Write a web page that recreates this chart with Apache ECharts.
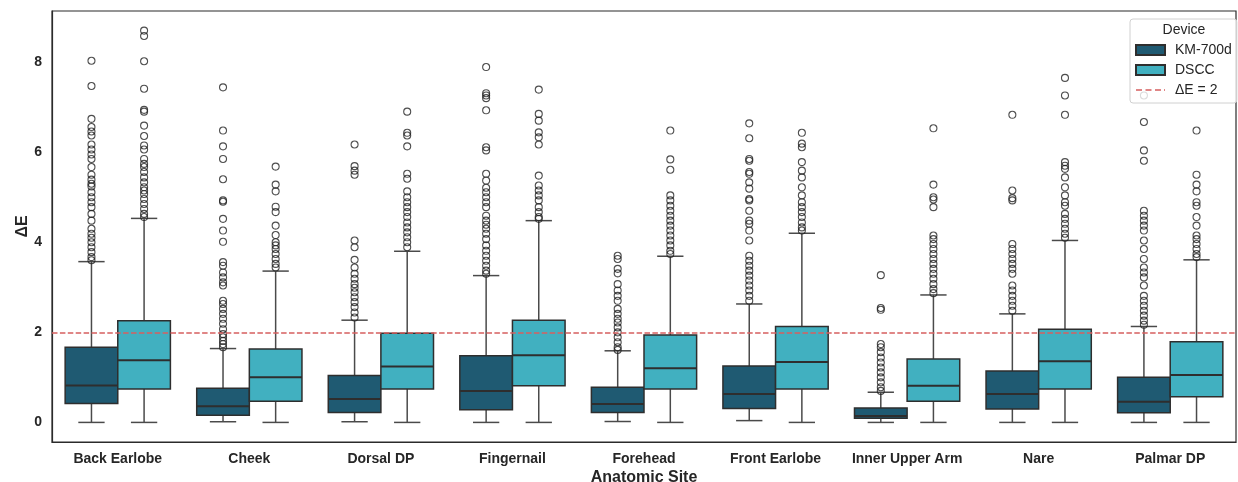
<!DOCTYPE html>
<html>
<head>
<meta charset="utf-8">
<script src="https://cdn.jsdelivr.net/npm/echarts@6/dist/echarts.min.js"></script>
<style>
html,body{margin:0;padding:0;background:#fff;}
#chart{width:1238px;height:482px;}
</style>
</head>
<body>
<div id="chart"></div>
<script>
// ---------- data ----------
const categories = ['Back Earlobe','Cheek','Dorsal DP','Fingernail','Forehead','Front Earlobe','Inner Upper Arm','Nare','Palmar DP'];
const seriesNames = ['KM-700d','DSCC'];
// [lower whisker, Q1, median, Q3, upper whisker]
const kmBox = [
  [0.00,0.42,0.82,1.67,3.57],
  [0.015,0.16,0.36,0.76,1.64],
  [0.015,0.22,0.52,1.04,2.27],
  [0.00,0.28,0.70,1.48,3.26],
  [0.02,0.22,0.41,0.78,1.59],
  [0.04,0.31,0.63,1.25,2.63],
  [0.00,0.09,0.14,0.32,0.67],
  [0.00,0.30,0.63,1.14,2.41],
  [0.00,0.215,0.46,1.00,2.13]
];
const dsccBox = [
  [0.00,0.74,1.38,2.26,4.53],
  [0.00,0.47,1.00,1.63,3.36],
  [0.00,0.74,1.24,1.98,3.80],
  [0.00,0.815,1.49,2.27,4.48],
  [0.00,0.74,1.20,1.94,3.69],
  [0.00,0.74,1.34,2.13,4.20],
  [0.00,0.47,0.815,1.41,2.83],
  [0.00,0.74,1.36,2.07,4.04],
  [0.00,0.57,1.05,1.79,3.61]
];
const kmOutliers = [
  [8.03,7.47,6.74,6.56,6.46,6.37,6.17,6.06,5.95,5.85,5.67,5.5,5.39,5.3,5.24,5.11,5.0,4.89,4.78,4.63,4.48,4.3,4.19,4.1,4.0,3.89,3.78,3.67,3.6],
  [7.44,6.48,6.13,5.85,5.4,4.93,4.9,4.52,4.26,4.01,3.56,3.48,3.33,3.22,3.11,3.04,2.7,2.63,2.52,2.41,2.3,2.19,2.07,1.96,1.89,1.81,1.74,1.67],
  [6.17,5.69,5.59,5.5,4.04,3.89,3.61,3.44,3.3,3.19,3.07,2.99,2.89,2.78,2.67,2.56,2.44,2.33],
  [7.89,7.31,7.26,7.2,6.93,6.11,6.04,5.52,5.37,5.21,5.11,5.0,4.89,4.78,4.59,4.48,4.39,4.3,4.19,4.07,3.93,3.81,3.7,3.59,3.48,3.37,3.3],
  [3.7,3.63,3.41,3.31,3.07,2.93,2.81,2.7,2.52,2.41,2.3,2.22,2.11,2.0,1.89,1.78,1.67,1.61],
  [6.64,6.31,5.85,5.81,5.56,5.52,5.33,5.19,4.96,4.93,4.7,4.48,4.41,4.26,4.04,3.7,3.59,3.48,3.37,3.26,3.15,3.04,2.93,2.81,2.7],
  [3.27,2.54,2.5,1.74,1.67,1.56,1.44,1.33,1.22,1.11,1.0,0.89,0.78,0.7],
  [6.83,5.15,4.98,4.93,3.96,3.85,3.74,3.63,3.52,3.41,3.3,3.04,2.93,2.81,2.7,2.59,2.48],
  [7.26,6.67,6.04,5.81,4.7,4.59,4.48,4.37,4.26,4.04,3.85,3.63,3.44,3.33,3.22,3.04,2.81,2.7,2.59,2.48,2.37,2.26,2.17]
];
const dsccOutliers = [
  [8.70,8.58,8.02,7.41,6.94,6.9,6.59,6.36,6.15,6.06,5.85,5.74,5.67,5.56,5.44,5.33,5.22,5.15,5.07,4.96,4.85,4.74,4.63,4.56],
  [5.68,5.28,5.13,4.79,4.67,4.37,4.16,4.0,3.93,3.85,3.74,3.63,3.52,3.44],
  [6.9,6.43,6.37,6.13,5.52,5.41,5.13,5.0,4.89,4.78,4.67,4.56,4.44,4.33,4.22,4.11,4.0,3.89],
  [7.39,6.85,6.7,6.44,6.33,6.17,5.48,5.26,5.15,5.04,4.93,4.78,4.67,4.56,4.52],
  [6.48,5.84,5.61,5.04,4.93,4.81,4.7,4.59,4.48,4.37,4.26,4.15,4.04,3.93,3.81,3.74],
  [6.43,6.19,6.11,5.78,5.59,5.44,5.22,5.04,4.89,4.78,4.67,4.56,4.44,4.33,4.26],
  [6.53,5.28,5.0,4.95,4.78,4.15,4.07,3.96,3.85,3.74,3.63,3.52,3.41,3.3,3.19,3.07,2.96,2.87],
  [7.65,7.26,6.83,5.78,5.7,5.63,5.44,5.22,5.04,4.89,4.81,4.63,4.52,4.41,4.3,4.19,4.1],
  [6.48,5.5,5.28,5.13,4.89,4.81,4.56,4.37,4.15,4.07,3.96,3.85,3.74,3.67]
];
const threshold = 2;
const thresholdName = 'ΔE = 2';
const yTicks = [0,2,4,6,8];

// ---------- styles ----------
const colors = ['#1f5a72', '#41b0c0'];
const lineRed = '#d65f5f';
const FONT = '"Liberation Sans", Arial, Helvetica, sans-serif';
const TXT = '#262626';
const offsets = [-0.2, 0.2];   // dodge, in category units
const halfBox = 0.2;            // half box width, in category units

function boxRenderer(si) {
  return function (params, api) {
    const i = api.value(0);
    const unit = api.size([1, 0])[0];
    const cx = api.coord([i + offsets[si], 0])[0];
    const x0 = cx - halfBox * unit, x1 = cx + halfBox * unit;
    const cap = 0.1 * unit;
    const py = k => api.coord([i, api.value(k)])[1];
    const yLo = py(1), yQ1 = py(2), yMed = py(3), yQ3 = py(4), yHi = py(5);
    const wStyle = {stroke: '#4a4a4a', lineWidth: 1.5};
    return {
      type: 'group',
      children: [
        {type: 'line', shape: {x1: cx, y1: yQ3, x2: cx, y2: yHi}, style: wStyle},
        {type: 'line', shape: {x1: cx, y1: yQ1, x2: cx, y2: yLo}, style: wStyle},
        {type: 'line', shape: {x1: cx - cap, y1: yHi, x2: cx + cap, y2: yHi}, style: wStyle},
        {type: 'line', shape: {x1: cx - cap, y1: yLo, x2: cx + cap, y2: yLo}, style: wStyle},
        {type: 'rect', shape: {x: x0, y: yQ3, width: x1 - x0, height: yQ1 - yQ3},
          style: {fill: colors[si], stroke: '#2e2e2e', lineWidth: 1.5}},
        {type: 'line', shape: {x1: x0, y1: yMed, x2: x1, y2: yMed}, style: {stroke: '#2e2e2e', lineWidth: 2}}
      ]
    };
  };
}

const boxData = [kmBox, dsccBox].map(arr => arr.map((b, i) => [i].concat(b)));
const outData = [kmOutliers, dsccOutliers].map((arr, si) => {
  const out = [];
  arr.forEach((vals, i) => vals.forEach(v => out.push([i + offsets[si], v])));
  return out;
});

const series = [];
[0, 1].forEach(si => {
  series.push({
    name: seriesNames[si],
    type: 'custom',
    xAxisIndex: 1, yAxisIndex: 0,
    renderItem: boxRenderer(si),
    encode: {x: 0, y: [1, 2, 3, 4, 5]},
    itemStyle: {color: colors[si], borderColor: '#2e2e2e', borderWidth: 1},
    data: boxData[si],
    z: 2
  });
});
[0, 1].forEach(si => {
  series.push({
    name: seriesNames[si] + ' outliers',
    type: 'scatter',
    xAxisIndex: 1, yAxisIndex: 0,
    symbol: 'circle',
    symbolSize: 7,
    itemStyle: {color: 'rgba(255,255,255,0)', borderColor: '#222', borderWidth: 1.1},
    data: outData[si],
    z: 3,
    silent: true
  });
});
series.push({
  name: thresholdName,
  type: 'line',
  xAxisIndex: 1, yAxisIndex: 0,
  symbol: 'none',
  data: [],
  itemStyle: {color: lineRed},
  lineStyle: {color: lineRed, type: [5.5, 2.4], width: 1.5},
  markLine: {
    silent: true, symbol: 'none',
    label: {show: false},
    lineStyle: {color: lineRed, type: [5.5, 2.4], width: 1.5},
    data: [{yAxis: threshold}]
  },
  z: 4
});

// dashed legend glyph (29x10 box; moves pin the bounding box)
const dashIcon = 'path://M0,0M29,10M0,4.3h6v1.5h-6zM9.5,4.3h6v1.5h-6zM19,4.3h6v1.5h-6zM28,4.3h1v1.5h-1z';

const chart = echarts.init(document.getElementById('chart'), null, {renderer: 'canvas'});
chart.setOption({
  animation: false,
  backgroundColor: '#fff',
  textStyle: {fontFamily: FONT},
  grid: {left: 52, right: 2, top: 11, bottom: 40, show: true, borderColor: '#2b2b2b', borderWidth: 1.2,
         containLabel: false, outerBoundsMode: 'none'},
  xAxis: [
    {
      type: 'category',
      data: categories,
      boundaryGap: true,
      name: 'Anatomic Site',
      nameLocation: 'middle',
      nameGap: 28,
      nameMoveOverlap: false,
      nameTextStyle: {fontFamily: FONT, fontWeight: 'bold', fontSize: 16, color: TXT},
      axisLine: {onZero: false, lineStyle: {color: '#2b2b2b', width: 1.2}},
      axisTick: {show: false},
      axisLabel: {fontFamily: FONT, fontWeight: 'bold', fontSize: 14, color: TXT, margin: 10, interval: 0},
      splitLine: {show: false}
    },
    {
      type: 'value', min: -0.5, max: 8.5, show: false,
      axisLine: {show: false, onZero: false},
      splitLine: {show: false}
    }
  ],
  yAxis: {
    type: 'value',
    min: -0.435, max: 9.135,
    name: 'ΔE',
    nameLocation: 'middle',
    nameGap: 21,
    nameMoveOverlap: false,
    nameRotate: 90,
    nameTextStyle: {fontFamily: FONT, fontWeight: 'bold', fontSize: 16, color: TXT},
    axisLine: {show: true, onZero: false, lineStyle: {color: '#2b2b2b', width: 1.2}},
    axisTick: {show: false},
    splitLine: {show: false},
    axisLabel: {
      fontFamily: FONT, fontWeight: 'bold', fontSize: 14, color: TXT, margin: 10,
      showMinLabel: false, showMaxLabel: false,
      formatter: v => (yTicks.some(t => Math.abs(t - v) < 1e-6) ? String(Math.round(v)) : '')
    }
  },
  legend: {
    data: [
      {name: seriesNames[0], icon: 'rect'},
      {name: seriesNames[1], icon: 'rect'},
      {name: thresholdName, icon: dashIcon, itemStyle: {color: lineRed, borderWidth: 0}}
    ],
    orient: 'vertical',
    left: 1130,
    top: 19,
    padding: [24, 5, 6, 5],
    itemGap: 6,
    itemWidth: 29,
    itemHeight: 10,
    itemTextGap: 11,
    backgroundColor: 'rgba(255,255,255,0.8)',
    borderColor: '#d0d0d0',
    borderWidth: 1,
    borderRadius: 3,
    textStyle: {fontFamily: FONT, fontSize: 14, color: TXT, padding: [0, 0, 0, 5]},
    selectedMode: false,
    z: 10
  },
  graphic: [{
    type: 'text', x: 1184, y: 30, z: 100,
    style: {text: 'Device', fontFamily: FONT, fontSize: 14, fill: TXT, align: 'center', verticalAlign: 'middle'}
  }],
  series: series
});
</script>
</body>
</html>
